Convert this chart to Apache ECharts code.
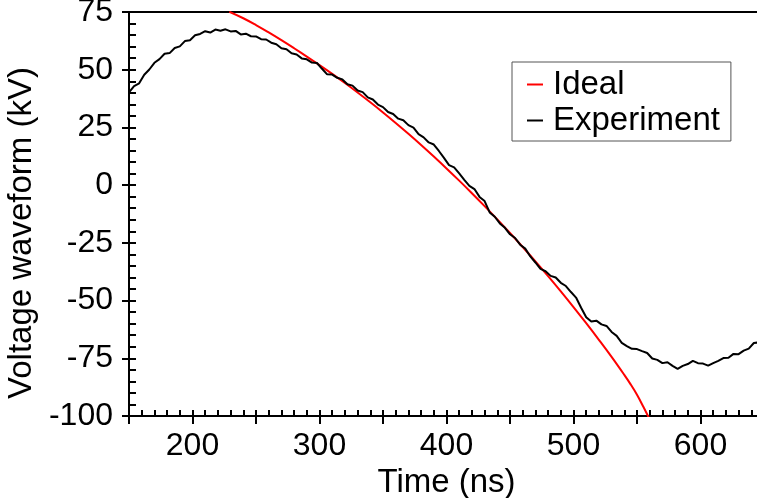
<!DOCTYPE html>
<html><head><meta charset="utf-8">
<script src="https://cdn.jsdelivr.net/npm/echarts@6/dist/echarts.min.js"></script>
<style>html,body{margin:0;padding:0;background:#fff}#c{width:757px;height:498px}</style>
</head><body><div id="c"></div>
<script>
const seriesNames = ['Ideal', 'Experiment'];
const xTitle = 'Time (ns)';
const yTitle = 'Voltage waveform (kV)';
const xLabelValues = [200, 300, 400, 500, 600];

const timeIdeal = [229,240,250,260,270,280,290,300,310,320,330,340,350,360,370,380,390,400,410,420,430,440,450,460,470,480,490,500,510,520,530,540,545,550,555,560];
const voltIdeal = [75.1,72.3,69.35,66.15,62.8,59.3,55.7,52.0,48.2,44.25,40.15,35.9,31.5,26.95,22.25,17.4,12.4,7.25,1.95,-3.5,-9.1,-14.85,-20.75,-26.8,-33.0,-39.4,-46.0,-52.8,-59.8,-67.0,-74.4,-82.2,-86.3,-90.8,-96.0,-101.5];

const timeExp = [150,154,158,162,166,170,174,178,182,186,190,194,198,202,206,210,214,218,222,226,230,234,238,242,246,250,254,258,262,266,270,274,278,282,286,290,294,298,302,306,310,314,318,322,326,330,334,338,342,346,350,354,358,362,366,370,374,378,382,386,390,394,398,402,406,410,414,418,422,426,430,434,438,442,446,450,454,458,462,466,470,474,478,482,486,490,494,498,502,506,510,514,518,522,526,530,534,538,542,546,550,554,558,562,566,570,574,578,582,586,590,594,598,602,606,610,614,618,622,626,630,634,638,642,646,650];
const voltExp = [40.2,42.9,44.1,47.8,50.1,53.0,54.6,56.9,57.2,59.4,60.1,62.4,62.8,64.9,65.5,66.7,66.1,67.4,66.9,67.5,66.6,66.8,65.3,65.6,64.5,64.4,63.2,63.1,61.7,61.0,59.3,58.9,57.1,56.6,54.9,54.5,53.1,52.9,50.4,48.0,47.9,46.5,45.8,43.7,43.1,41.0,40.3,38.0,37.1,34.9,33.8,31.7,30.8,28.8,28.1,26.0,24.9,22.1,20.7,18.5,17.6,14.8,11.8,8.7,7.7,5.1,2.3,-0.3,-1.7,-5.1,-6.9,-11.8,-13.7,-16.6,-18.5,-21.3,-22.9,-25.8,-27.5,-30.9,-33.5,-36.3,-37.3,-39.3,-40.0,-42.3,-43.7,-46.3,-48.7,-53.1,-57.2,-59.1,-58.7,-60.3,-61.0,-63.6,-65.3,-68.3,-69.7,-70.9,-71.0,-71.9,-72.7,-75.1,-75.7,-77.1,-76.7,-78.3,-79.6,-78.3,-77.5,-76.1,-77.1,-77.3,-78.2,-77.1,-76.1,-74.9,-74.8,-73.1,-73.2,-71.7,-70.8,-68.4,-68.1,-66.8];

const FONT = '"Liberation Sans", Arial, sans-serif';
const chart = echarts.init(document.getElementById('c'), null, {renderer: 'canvas'});
const ax = {color: '#000', width: 2};
const X = {min: 150, max: 650};
const Y = {min: -100, max: 75};
chart.setOption({
  animation: false,
  backgroundColor: '#fff',
  grid: {left: 129, top: 12, width: 635, height: 404, containLabel: false, outerBoundsMode: 'none'},
  legend: {
    left: 512, top: 62, orient: 'vertical',
    data: seriesNames,
    icon: 'rect', itemWidth: 16, itemHeight: 2, itemGap: 3,
    padding: [6, 11, 4, 15],
    borderColor: '#555', borderWidth: 1, backgroundColor: '#fff',
    textStyle: {fontSize: 33, color: '#000', fontFamily: FONT, padding: [0, 0, 0, 5]}
  },
  xAxis: [
    {type: 'value', position: 'bottom', ...X, interval: 50,
     name: xTitle, nameLocation: 'middle', nameGap: 41,
     nameTextStyle: {fontSize: 33, color: '#000', fontFamily: FONT},
     axisLine: {show: true, onZero: false, lineStyle: ax},
     axisTick: {show: true, inside: false, length: 8, lineStyle: ax},
     axisLabel: {show: true, margin: 14, fontSize: 32, color: '#000', fontFamily: FONT,
       formatter: v => xLabelValues.includes(v) ? String(v) : ''},
     splitLine: {show: false}},
    {type: 'value', position: 'bottom', ...X, interval: 10,
     axisLine: {show: false, onZero: false},
     axisTick: {show: true, inside: true, length: 6, lineStyle: ax},
     axisLabel: {show: false}, splitLine: {show: false}},
    {type: 'value', position: 'top', ...X, interval: 50,
     axisLine: {show: true, onZero: false, lineStyle: ax},
     axisTick: {show: false}, axisLabel: {show: false}, splitLine: {show: false}}
  ],
  yAxis: [
    {type: 'value', position: 'left', ...Y, interval: 25,
     name: yTitle, nameLocation: 'middle', nameGap: 74, nameRotate: 90,
     nameTextStyle: {fontSize: 33, color: '#000', fontFamily: FONT, padding: [0, 38, 0, 0]},
     axisLine: {show: true, onZero: false, lineStyle: ax},
     axisTick: {show: true, inside: false, length: 7, lineStyle: ax},
     axisLabel: {show: true, margin: 16, fontSize: 32, color: '#000', fontFamily: FONT},
     splitLine: {show: false}},
    {type: 'value', position: 'left', ...Y, interval: 5,
     axisLine: {show: false, onZero: false},
     axisTick: {show: true, inside: true, length: 7, lineStyle: ax},
     axisLabel: {show: false}, splitLine: {show: false}}
  ],
  series: [
    {name: seriesNames[0], type: 'line', xAxisIndex: 0, yAxisIndex: 0,
     data: timeIdeal.map((t, i) => [t, voltIdeal[i]]),
     smooth: 0.4, showSymbol: false, symbol: 'none',
     itemStyle: {color: '#ff0000'}, lineStyle: {color: '#ff0000', width: 2}, z: 3},
    {name: seriesNames[1], type: 'line', xAxisIndex: 0, yAxisIndex: 0,
     data: timeExp.map((t, i) => [t, voltExp[i]]),
     showSymbol: false, symbol: 'none',
     itemStyle: {color: '#000'}, lineStyle: {color: '#000', width: 2}, z: 4}
  ]
});
</script></body></html>
